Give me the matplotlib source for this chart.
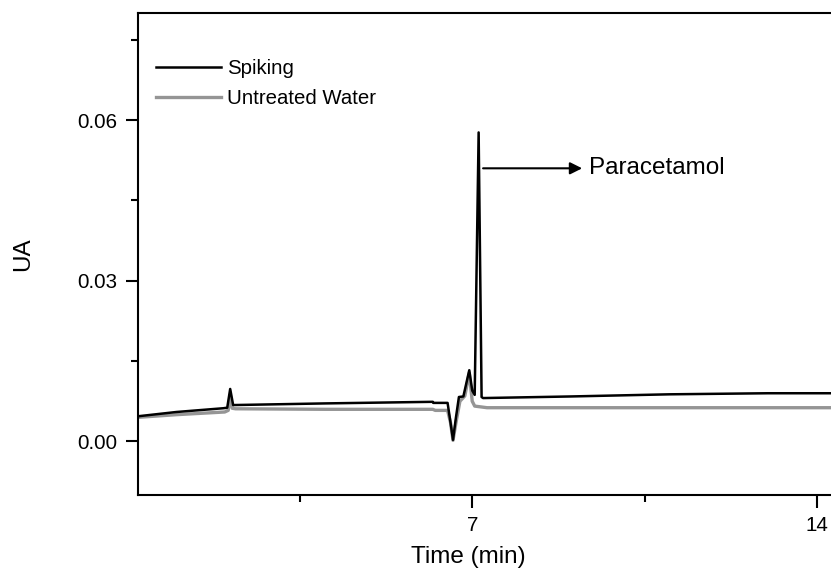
import matplotlib
matplotlib.use("Agg")
import matplotlib.pyplot as plt
from matplotlib.ticker import MultipleLocator

plt.rcParams['font.family'] = ['Liberation Sans', 'DejaVu Sans']

# Spiking series (time in min, absorbance UA)
spk_t = [0.22, 1.0, 1.95, 2.03, 2.09, 2.15, 2.2, 4.0, 6.2, 6.21, 6.5, 6.56, 6.61, 6.67,
         6.73, 6.82, 6.94, 7.0, 7.05, 7.13, 7.19, 7.22, 9.0, 11.0, 13.0, 15.0]
spk_v = [0.0047, 0.0055, 0.0062, 0.0063, 0.0098, 0.0068, 0.0068, 0.0071, 0.0074, 0.0072,
         0.0072, 0.0035, 0.0003, 0.0045, 0.0083, 0.0084, 0.0133, 0.0095, 0.0087, 0.0577,
         0.0083, 0.0081, 0.0084, 0.0088, 0.0090, 0.0090]

# Untreated water series
unt_t = [0.22, 1.0, 1.98, 2.05, 2.09, 2.13, 2.2, 4.0, 6.2, 6.25, 6.5, 6.56, 6.61, 6.67,
         6.75, 6.85, 6.94, 7.0, 7.05, 7.3, 10.0, 15.0]
unt_v = [0.0045, 0.0050, 0.0055, 0.0058, 0.0088, 0.0062, 0.0061, 0.0060, 0.0060, 0.0058,
         0.0058, 0.0035, 0.0002, 0.0035, 0.0075, 0.0085, 0.0128, 0.0075, 0.0066, 0.0063,
         0.0063, 0.0063]

labels = ["Spiking", "Untreated Water"]
x_ticks = [7, 14]
y_ticks = [0.00, 0.03, 0.06]

fig = plt.figure(figsize=(8.31, 5.68), dpi=100)
ax = fig.add_axes([138/831, 73/568, 728.6/831, 482/568])

ax.plot(spk_t, spk_v, color='black', lw=1.8, label=labels[0], zorder=3)
ax.plot(unt_t, unt_v, color='#959595', lw=2.4, label=labels[1], zorder=2)

ax.set_xlim(0.22, 15)
ax.set_ylim(-0.01, 0.08)
ax.set_xticks(x_ticks)
ax.set_xticklabels([str(t) for t in x_ticks])
ax.set_yticks(y_ticks)
ax.set_yticklabels([f"{t:.2f}" for t in y_ticks])
ax.xaxis.set_minor_locator(MultipleLocator(3.5))
ax.yaxis.set_minor_locator(MultipleLocator(0.015))

for s in ax.spines.values():
    s.set_linewidth(1.5)
ax.tick_params(which='major', direction='out', length=9, width=1.5, labelsize=14.8, pad=6)
ax.tick_params(which='minor', direction='out', length=5, width=1.5)
ax.tick_params(top=False, right=False)

ax.set_xlabel("Time (min)", fontsize=17.5)
ax.xaxis.set_label_coords(0.453, -0.105)
ax.set_ylabel("UA", fontsize=17.5)
ax.yaxis.set_label_coords(-0.142, 0.5)

ax.annotate("", xy=(9.23, 0.051), xytext=(7.22, 0.051),
            arrowprops=dict(arrowstyle='-|>', color='black', lw=1.5, mutation_scale=18,
                            shrinkA=0, shrinkB=0))
ax.text(9.37, 0.051, "Paracetamol", fontsize=17.5, va='center', ha='left')

leg = ax.legend(loc='upper left', bbox_to_anchor=(0.0247, 0.905), frameon=False,
                handlelength=3.2, handletextpad=0.3, labelspacing=0.55, borderpad=0,
                borderaxespad=0, fontsize=14.7)

fig.savefig("out.png", dpi=100)
